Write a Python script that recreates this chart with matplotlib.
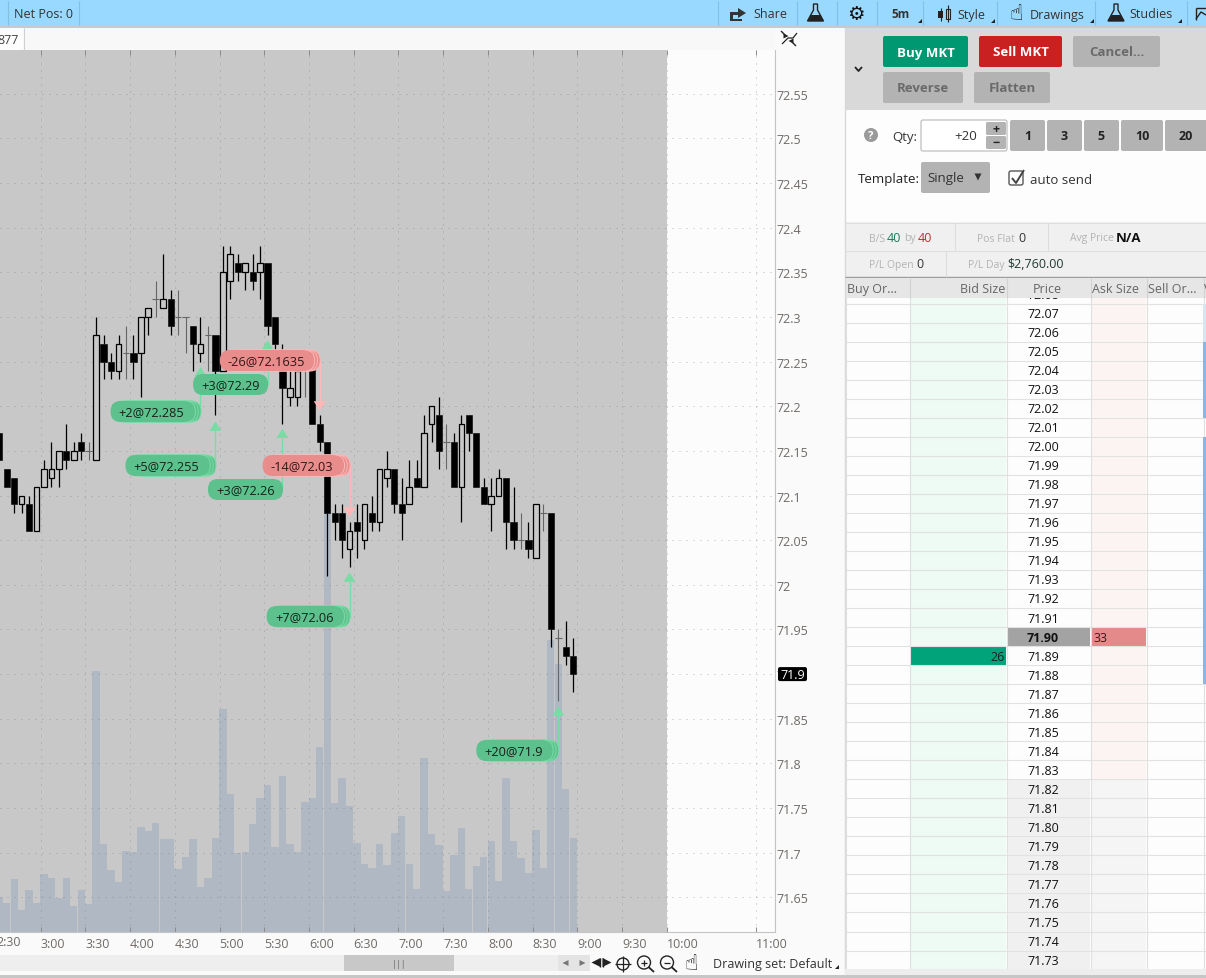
import matplotlib
matplotlib.use('Agg')
import matplotlib.pyplot as plt
from matplotlib.patches import FancyBboxPatch, Rectangle, Polygon, Circle

plt.rcParams['font.family'] = ['Open Sans', 'DejaVu Sans']

W, H = 1206, 979
BG = '#c8c8c8'

# bars run every 5 minutes from 2:30
first_bar = 150
opens = [72.17, 72.13, 72.12, 72.09, 72.09, 72.06,
         72.11, 72.12, 72.13, 72.15, 72.14, 72.16,
         72.15, 72.14, 72.27, 72.25, 72.24, 72.26,
         72.26, 72.26, 72.30, 72.32, 72.31, 72.32,
         72.30, 72.30, 72.29, 72.26, 72.28, 72.28,
         72.24, 72.34, 72.36, 72.35, 72.35, 72.35,
         72.36, 72.30, 72.25, 72.21, 72.21, 72.25,
         72.25, 72.18, 72.16, 72.08, 72.08, 72.04,
         72.07, 72.05, 72.08, 72.07, 72.12, 72.13,
         72.09, 72.09, 72.12, 72.11, 72.18, 72.19,
         72.16, 72.16, 72.11, 72.19, 72.17, 72.11,
         72.09, 72.10, 72.12, 72.07, 72.05, 72.05,
         72.03, 72.08, 72.08, 71.94, 71.93, 71.92]
highs = [72.17, 72.13, 72.12, 72.10, 72.10, 72.11,
         72.14, 72.16, 72.15, 72.18, 72.16, 72.17,
         72.16, 72.30, 72.28, 72.26, 72.28, 72.29,
         72.28, 72.30, 72.31, 72.34, 72.37, 72.33,
         72.33, 72.30, 72.29, 72.30, 72.29, 72.28,
         72.38, 72.38, 72.37, 72.36, 72.37, 72.38,
         72.36, 72.30, 72.27, 72.24, 72.25, 72.25,
         72.25, 72.19, 72.16, 72.09, 72.09, 72.07,
         72.09, 72.09, 72.10, 72.13, 72.15, 72.13,
         72.12, 72.14, 72.14, 72.19, 72.20, 72.21,
         72.18, 72.17, 72.19, 72.19, 72.17, 72.12,
         72.12, 72.13, 72.12, 72.11, 72.08, 72.07,
         72.09, 72.09, 72.08, 71.95, 71.96, 71.94]
lows = [72.14, 72.11, 72.08, 72.08, 72.06, 72.06,
        72.11, 72.11, 72.11, 72.13, 72.14, 72.14,
        72.14, 72.14, 72.23, 72.23, 72.23, 72.23,
        72.23, 72.21, 72.28, 72.30, 72.31, 72.28,
        72.28, 72.26, 72.24, 72.25, 72.24, 72.19,
        72.24, 72.32, 72.34, 72.33, 72.33, 72.32,
        72.28, 72.26, 72.18, 72.20, 72.20, 72.21,
        72.18, 72.15, 72.01, 72.05, 72.03, 72.02,
        72.03, 72.04, 72.06, 72.06, 72.11, 72.08,
        72.05, 72.09, 72.11, 72.11, 72.16, 72.13,
        72.13, 72.11, 72.07, 72.15, 72.11, 72.09,
        72.06, 72.10, 72.04, 72.04, 72.04, 72.03,
        72.03, 72.06, 71.93, 71.87, 71.91, 71.88]
closes = [72.14, 72.11, 72.09, 72.10, 72.06, 72.11,
          72.13, 72.13, 72.15, 72.14, 72.15, 72.15,
          72.15, 72.28, 72.25, 72.24, 72.27, 72.26,
          72.25, 72.30, 72.31, 72.32, 72.32, 72.29,
          72.30, 72.30, 72.27, 72.27, 72.28, 72.24,
          72.35, 72.37, 72.35, 72.36, 72.34, 72.36,
          72.29, 72.27, 72.22, 72.22, 72.24, 72.25,
          72.18, 72.16, 72.08, 72.07, 72.05, 72.06,
          72.06, 72.09, 72.07, 72.13, 72.13, 72.09,
          72.08, 72.11, 72.11, 72.17, 72.20, 72.15,
          72.16, 72.11, 72.18, 72.17, 72.11, 72.09,
          72.10, 72.12, 72.07, 72.05, 72.05, 72.04,
          72.09, 72.08, 71.95, 71.94, 71.92, 71.90]
volumes = [35, 29, 53, 22, 42, 29,
           58, 54, 34, 54, 26, 42,
           28, 261, 88, 62, 50, 81,
           80, 105, 101, 109, 93, 93,
           63, 75, 93, 45, 54, 94,
           223, 138, 79, 80, 108, 134,
           147, 85, 156, 88, 80, 130,
           134, 185, 440, 129, 154, 126,
           89, 68, 64, 88, 67, 99,
           116, 68, 43, 174, 98, 87,
           41, 77, 104, 43, 66, 75,
           91, 51, 154, 91, 74, 59,
           102, 64, 292, 268, 143, 94]

price_ticks = [72.55, 72.5, 72.45, 72.4, 72.35, 72.3, 72.25, 72.2, 72.15, 72.1,
               72.05, 72.0, 71.95, 71.9, 71.85, 71.8, 71.75, 71.7, 71.65]
price_labels = ['72.55', '72.5', '72.45', '72.4', '72.35', '72.3', '72.25', '72.2', '72.15', '72.1',
                '72.05', '72', '71.95', '71.9', '71.85', '71.8', '71.75', '71.7', '71.65']
time_ticks = [180, 210, 240, 270, 300, 330, 360, 390, 420, 450, 480, 510, 540, 570, 600, 660]
time_labels = ['3:00', '3:30', '4:00', '4:30', '5:00', '5:30', '6:00', '6:30', '7:00', '7:30',
               '8:00', '8:30', '9:00', '9:30', '10:00', '11:00']

# trades: label, bar time (minutes), price of the arrow tip
trade_labels = ['+2@72.285', '+3@72.29', '+5@72.255', '+3@72.26', '-26@72.1635', '-14@72.03', '+7@72.06', '+20@71.9']
trade_times = [285, 330, 295, 340, 365, 385, 385, 525]
trade_tips = [72.244, 72.274, 72.183, 72.175, 72.195, 72.076, 72.014, 71.864]
# pill layout in pixels: centre y, width of front pill, ghost pills behind it
pill_y = [412.5, 385.5, 466.5, 490.5, 361.5, 466.5, 617.5, 751.5]
pill_w = [82, 75, 82, 75, 92, 79, 75, 74]
pill_ghosts = [3, 0, 3, 0, 3, 3, 3, 3]

ladder_prices = [72.08, 72.07, 72.06, 72.05, 72.04, 72.03, 72.02, 72.01, 72.00, 71.99, 71.98, 71.97,
                 71.96, 71.95, 71.94, 71.93, 71.92, 71.91, 71.90, 71.89, 71.88, 71.87, 71.86, 71.85,
                 71.84, 71.83, 71.82, 71.81, 71.80, 71.79, 71.78, 71.77, 71.76, 71.75, 71.74, 71.73]
last_price = 71.90
bid_price, bid_size = 71.89, 26
ask_price, ask_size = 71.90, 33

fig = plt.figure(figsize=(W / 100, H / 100), dpi=100, facecolor='#fafafa')

# volume axes sit behind the price axes
vol = fig.add_axes([0, (H - 932.5) / H, 775 / W, 881.5 / H])
vol.set_facecolor('#fcfcfc')
vol.set_xlim(152.7, 672.6)
vol.set_ylim(0, 881.5)
vol.set_xticks([])
vol.set_yticks([])
for s in vol.spines.values():
    s.set_visible(False)
vol.axvspan(152.7, 600, color=BG, lw=0, zorder=0)
bar_x = [first_bar + 5 * i for i in range(len(volumes))]
vol.bar([t - 0.25 for t in bar_x], volumes, width=4.92, align='edge', color='#afb8c3', lw=0, zorder=1)

ax = fig.add_axes(vol.get_position(), zorder=2)
ax.patch.set_visible(False)
ax.set_xlim(152.7, 672.6)
ax.set_ylim(71.6117, 72.599)
ax.set_xticks(time_ticks)
ax.set_xticklabels(time_labels, ha='left', color='#6f6a66', fontsize=9)
ax.yaxis.tick_right()
ax.set_yticks(price_ticks)
ax.set_yticklabels(price_labels, color='#6f6a66', fontsize=9)
ax.tick_params(axis='x', direction='in', length=3.5, top=True, color='#8a8a8a', width=0.7, pad=4)
ax.tick_params(axis='y', length=0, pad=1)
ax.grid(True, color='#777777', alpha=0.5, lw=0.72, linestyle=(0, (1, 6)), dash_capstyle='butt')
ax.set_axisbelow(True)
for name in ['top', 'left']:
    ax.spines[name].set_visible(False)
ax.spines['right'].set_color('#c4c4c4')
ax.spines['bottom'].set_color('#c4c4c4')

# candles
cx = [t + 2.2 for t in bar_x]
for x, o, h, l, c in zip(cx, opens, highs, lows, closes):
    if c == o:
        ax.vlines(x, l, h, color='#666666', lw=0.8, zorder=3)
        ax.hlines(c, x - 2.2, x + 2.2, color='#666666', lw=0.8, zorder=3)
        continue
    ax.vlines(x, max(o, c), h, color='black', lw=0.9, zorder=3)
    ax.vlines(x, l, min(o, c), color='black', lw=0.9, zorder=3)
    if c > o:
        ax.add_patch(Rectangle((x - 1.9, o), 3.8, c - o, fc='none', ec='black', lw=0.9, zorder=3))
    else:
        ax.add_patch(Rectangle((x - 2.1, c), 4.2, o - c, fc='black', ec='black', lw=0.4, zorder=3))

# overlay in pixel coordinates for the pills and the trading panel
ui = fig.add_axes([0, 0, 1, 1], zorder=5)
ui.patch.set_visible(False)
ui.set_xlim(0, W)
ui.set_ylim(H, 0)
ui.axis('off')


def rect(x0, y0, x1, y1, color, ec='none', lw=0, z=1):
    ui.add_patch(Rectangle((x0, y0), x1 - x0, y1 - y0, fc=color, ec=ec, lw=lw, zorder=z))


def rbox(x0, y0, x1, y1, color, r=2, ec='none', lw=0, z=2):
    ui.add_patch(FancyBboxPatch((x0, y0), x1 - x0, y1 - y0, boxstyle=f'round,pad=0,rounding_size={r}',
                                fc=color, ec=ec, lw=lw, zorder=z))


def txt(x, y, s, size=9, color='#333333', ha='left', weight='normal', z=6, **kw):
    ui.text(x, y + 1, s, fontsize=size, color=color, ha=ha, va='center', fontweight=weight, zorder=z, **kw)


def line(xs, ys, color='#cccccc', lw=0.75, z=2):
    ui.plot(xs, ys, color=color, lw=lw, zorder=z, solid_capstyle='butt')


def tri(x, y, size, direction, color, z=6):
    pts = {'up': [(x - size, y + size), (x + size, y + size), (x, y - size)],
           'down': [(x - size, y - size), (x + size, y - size), (x, y + size)],
           'left': [(x + size, y - size), (x + size, y + size), (x - size, y)],
           'right': [(x - size, y - size), (x - size, y + size), (x + size, y)]}[direction]
    ui.add_patch(Polygon(pts, fc=color, ec='none', zorder=z))


def to_px(t, p):
    x, y = ax.transData.transform((t, p))
    return x, H - y


def flask(x, y, color='#222222'):
    ui.add_patch(Polygon([(x - 2, y - 9), (x + 2, y - 9), (x + 2, y - 3), (x + 8, y + 8), (x - 8, y + 8), (x - 2, y - 3)],
                         fc='none', ec=color, lw=1, zorder=6))
    ui.add_patch(Polygon([(x - 4.5, y + 2), (x + 4.5, y + 2), (x + 8, y + 8), (x - 8, y + 8)], fc=color, ec='none', zorder=6))


# trade arrows and pills
GREEN, GREEN_LINE = '#5cc18d', '#78dda5'
RED, RED_LINE = '#e88c8c', '#ffb7b7'
for label, t, tip, py, w, ghosts in zip(trade_labels, trade_times, trade_tips, pill_y, pill_w, pill_ghosts):
    x, y = to_px(t + 2.2, tip)
    buy = label[0] == '+'
    fill, stroke = (GREEN, GREEN_LINE) if buy else (RED, RED_LINE)
    if buy:
        line([x, x], [py, y + 9], stroke, 1.0, z=3)
        ui.add_patch(Polygon([(x - 6, y + 9.5), (x + 6, y + 9.5), (x, y)], fc=stroke, ec='none', zorder=3))
    else:
        line([x, x], [py, y - 9], stroke, 1.0, z=3)
        ui.add_patch(Polygon([(x - 6, y - 9.5), (x + 6, y - 9.5), (x, y)], fc=stroke, ec='none', zorder=3))
    right = x + 0.5
    front = right - ghosts * 2.8
    for g in range(ghosts, 0, -1):
        gx = front + g * 2.8
        rbox(gx - w, py - 10.5, gx, py + 10.5, fill, r=10, ec=stroke, lw=0.7, z=4)
    rbox(front - w, py - 10.5, front, py + 10.5, fill, r=10, z=4)
    txt(front - w / 2, py - 0.5, label, size=9.2, color='#14221a' if buy else '#331616', ha='center')

# last price tag
_, ly = to_px(0, last_price)
rbox(778, ly - 7, 807, ly + 7, 'black', r=2, z=6)
txt(792.5, ly - 1, '71.9', size=9, color='white', ha='center', z=7)
# leftmost time label falls off the edge of the window
txt(to_px(first_bar, 72)[0], 942, '2:30', size=9, color='#6f6a66', clip_on=True)

# top toolbar
rect(0, 0, W, 27, '#9ad9ff')
rect(0, 0, W, 1, '#c5e9ff', z=2)
rect(0, 27, W, 29, '#c9c9c9')
for x in [8, 79, 718, 797, 837, 877, 923, 997, 1095, 1187]:
    line([x, x], [2, 26], '#7fc0e6', 0.8)
txt(14, 14, 'Net Pos: 0', size=9)
ui.add_patch(Polygon([(730, 13), (738, 13), (738, 9), (746, 14), (738, 19), (738, 16), (733, 16), (733, 20), (742, 20), (742, 22), (730, 22)],
                     fc='#333333', ec='none', zorder=6))
txt(753, 14, 'Share', size=9)
flask(815.5, 14)
txt(855.5, 13, '\u2699', size=14, color='#111111', ha='center', family='DejaVu Sans')
txt(891, 14, '5m', size=8.5, weight='bold')
rect(938, 12, 943, 19, '#222222', z=6)
line([940.5, 940.5], [9, 22], '#222222', 0.8, z=6)
rect(946, 10, 950, 20, 'none', ec='#222222', lw=0.8, z=6)
line([948, 948], [6, 23], '#222222', 0.8, z=5)
txt(957, 14, 'Style', size=9)
txt(1016, 13, '\u261d', size=16, color='#111111', ha='center', family='DejaVu Sans')
txt(1030, 14, 'Drawings', size=9)
flask(1116, 14)
txt(1129, 14, 'Studies', size=9)
line([1196, 1206], [9, 9], '#222222', 1, z=6)
line([1196, 1196], [9, 21], '#222222', 1, z=6)
line([1196, 1201, 1206], [20, 13, 16], '#222222', 1, z=6)
for x in [918, 991, 1090, 1178]:
    ui.add_patch(Polygon([(x, 24), (x + 4, 24), (x + 4, 20)], fc='#222222', ec='none', zorder=6))

# strip above the chart
rect(0, 29, 775, 51, '#f8f8f8')
rect(0, 29, 23, 51, '#fdfdfd')
line([23.5, 23.5], [29, 51], '#d0d0d0')
txt(-3, 39, '877', size=9, color='#444444')
# expand icon
line([781, 786], [32, 37], '#222222', 1, z=6)
tri(786, 37, 2.5, 'right', '#222222')
line([791, 796], [42, 47], '#222222', 1, z=6)
tri(791, 42, 2.5, 'left', '#222222')
line([782, 788, 793, 797], [45, 39, 39, 34], '#222222', 0.9, z=6)

# strip below the chart
rect(0, 956, 558, 972, '#eeeeee')
rect(344, 956, 454, 972, '#c8c8c8', z=2)
txt(399, 963.5, '|||', size=6.5, color='#666666', ha='center')
rect(558, 956, 590, 972, '#e4e4e4', z=2)
tri(565.5, 964, 3, 'left', '#777777')
tri(582.5, 964, 3, 'right', '#777777')
tri(596, 963.5, 4.5, 'left', '#222222')
tri(607, 963.5, 4.5, 'right', '#222222')
line([600, 600], [959, 968], '#222222', 1, z=6)
line([603, 603], [959, 968], '#222222', 1, z=6)
ui.add_patch(Circle((623, 965), 6, fc='none', ec='#222222', lw=1, zorder=6))
line([615, 631], [965, 965], '#222222', 0.9, z=6)
line([623, 623], [957, 973], '#222222', 0.9, z=6)
for mx in [644, 667]:
    ui.add_patch(Circle((mx, 963.5), 6.5, fc='none', ec='#222222', lw=1, zorder=6))
    line([mx + 4.5, mx + 10], [968, 973], '#222222', 1.3, z=6)
    line([mx - 3, mx + 3], [963.5, 963.5], '#222222', 0.9, z=6)
line([644, 644], [960.5, 966.5], '#222222', 0.9, z=6)
txt(691, 963.5, '\u261d', size=16, color='#111111', ha='center', family='DejaVu Sans')
txt(713, 964, 'Drawing set: Default', size=9)
ui.add_patch(Polygon([(835, 970), (839, 970), (839, 966), ], fc='#222222', ec='none', zorder=6))
rect(0, 976, W, H, '#c6c6c6', z=2)

# order panel
rect(845, 29, W, 976, '#fdfdfd')
line([844.5, 844.5], [29, 976], '#d8d8d8', 1)
rect(845, 29, W, 111, '#d9d9d9')
line([855, 858.5, 862], [68, 72, 68], '#222222', 1.3, z=6)
rbox(883, 37, 968, 68, '#009870')
txt(925.5, 52, 'Buy MKT', size=9.5, color='white', ha='center', weight='bold')
rbox(979, 37, 1062, 68, '#c92122')
txt(1020.5, 52, 'Sell MKT', size=9.5, color='white', ha='center', weight='bold')
rbox(1073, 37, 1160, 68, '#b3b3b3')
txt(1116.5, 52, 'Cancel...', size=9.5, color='#6a6a6a', ha='center', weight='bold')
rbox(883, 73, 963, 104, '#b3b3b3')
txt(923, 88, 'Reverse', size=9.5, color='#6a6a6a', ha='center', weight='bold')
rbox(974, 73, 1050, 104, '#b3b3b3')
txt(1012, 88, 'Flatten', size=9.5, color='#6a6a6a', ha='center', weight='bold')

ui.add_patch(Circle((871, 136), 7, fc='#9a9a9a', ec='none', zorder=5))
txt(871, 135.5, '?', size=8, color='white', ha='center', weight='bold')
txt(892, 136, 'Qty:', size=9.5)
rbox(921, 121, 1007, 152, 'white', ec='#b8b8b8', lw=0.8)
txt(977, 135.5, '+20', size=9.5, ha='right')
rbox(986, 123, 1006, 136, '#b3b3b3', r=1.5, z=3)
rbox(986, 137, 1006, 150, '#b3b3b3', r=1.5, z=3)
txt(996, 128, '+', size=9, color='#222222', ha='center', weight='bold')
txt(996, 142, '\u2212', size=9, color='#222222', ha='center', weight='bold')
for x0, x1, s in [(1010, 1045, '1'), (1047, 1082, '3'), (1084, 1119, '5'), (1121, 1163, '10'), (1165, 1210, '20')]:
    rbox(x0, 121, x1, 152, '#b3b3b3')
    txt((x0 + x1 - 4 * (s == '20')) / 2, 135.5, s, size=9, color='#222222', ha='center', weight='bold')
txt(858, 178, 'Template:', size=9.5, color='#222222')
rbox(921, 163, 990, 194, '#b3b3b3')
txt(927, 177.5, 'Single', size=9.5)
tri(978, 178, 3.5, 'down', '#333333')
rbox(1009, 172, 1023, 186, 'none', ec='#555555', lw=1, r=2, z=5)
line([1012, 1016, 1024], [179, 184, 171], '#444444', 1.4, z=6)
txt(1030, 179, 'auto send', size=9.5)

# position strip
rect(846, 223, W, 278, '#f0f0f0')
line([845, W], [223.5, 223.5], '#dedede')
line([845, W], [251.5, 251.5], '#dedede')
line([845, W], [278, 278], '#9d9d9d', 1)
for x, y0, y1 in [(954.5, 224, 251), (1047.5, 224, 251), (945.5, 252, 278)]:
    line([x, x], [y0, y1], '#dcdcdc')
GREY = '#b3b3b3'
txt(869, 238, 'B/S', size=7.5, color=GREY)
txt(887, 237, '40', size=9, color='#1c7a5a')
txt(904, 238, 'by', size=7.5, color=GREY)
txt(918, 237, '40', size=9, color='#c92a2a')
txt(977, 238, 'Pos Flat', size=7.5, color=GREY)
txt(1018, 237, '0', size=9)
txt(1070, 238, 'Avg Price', size=7.5, color=GREY)
txt(1116, 237, 'N/A', size=9.5, color='#111111', weight='bold')
txt(869, 265, 'P/L Open', size=7.5, color=GREY)
txt(916, 264, '0', size=9)
txt(968, 265, 'P/L Day', size=7.5, color=GREY)
txt(1007, 264, '$2,760.00', size=9, color='#1f3b30')

# price ladder
COLS = [846, 910, 1007, 1091, 1147, 1203.5]
row_h = 19.03
rows_y = [295 + row_h * i for i in range(len(ladder_prices))]
rect(910, 299, 1006, 970, '#eefaf4')
rect(1091, 299, 1146, 970, '#fbf4f3')
for price, y in zip(ladder_prices, rows_y):
    if price <= 71.82:
        rect(1007, y - row_h / 2, 1090, y + row_h / 2, '#f0f0f0', z=1.5)
        rect(1091, y - row_h / 2, 1146, y + row_h / 2, '#f5f5f5', z=1.5)
    if price == last_price:
        rect(1007, y - row_h / 2, 1090, y + row_h / 2, '#a3a3a3', z=1.7)
    if price == ask_price:
        rect(1091, y - row_h / 2, 1146, y + row_h / 2, '#e58a8a', z=1.7)
        txt(1093, y - 0.5, str(ask_size), size=9, color='#3a1c1c')
    if price == bid_price:
        rect(910, y - row_h / 2, 1006, y + row_h / 2, '#00a37a', z=1.7)
        txt(1005, y - 0.5, str(bid_size), size=9, color='#10261e', ha='right')
    if 71.88 <= price <= 72.05 and price != 72.01:
        rect(1203, y - row_h / 2, W, y + row_h / 2, '#8fb4e0', z=2.5)
    elif 72.06 <= price <= 72.07:
        rect(1203, y - row_h / 2, W, y + row_h / 2, '#d8e5f2', z=2.5)
    txt(1043, y - 0.5, f'{price:.2f}', size=9, color='#111111', ha='center',
        weight='bold' if price == last_price else 'normal', z=3)
    line([846, W], [y + row_h / 2, y + row_h / 2], '#e2e2e2', 0.8, z=2)
for x in COLS:
    line([x, x], [279, 970], '#e0e0e0', 0.8, z=2)
rect(846, 279, W, 299, '#e6e6e6', z=4)
for x in COLS[1:]:
    line([x, x], [279, 299], '#d2d2d2', 0.8, z=5)
txt(847, 289, 'Buy Or...', size=9, color='#666666')
txt(1005, 289, 'Bid Size', size=9, color='#666666', ha='right')
txt(1047, 289, 'Price', size=9, color='#666666', ha='center')
txt(1092, 289, 'Ask Size', size=9, color='#666666')
txt(1148, 289, 'Sell Or...', size=9, color='#666666')
txt(1204, 289, 'V', size=9, color='#666666')
rect(845, 970, W, 976, '#ededed', z=5)

fig.savefig('out.png', dpi=100, facecolor=fig.get_facecolor())
